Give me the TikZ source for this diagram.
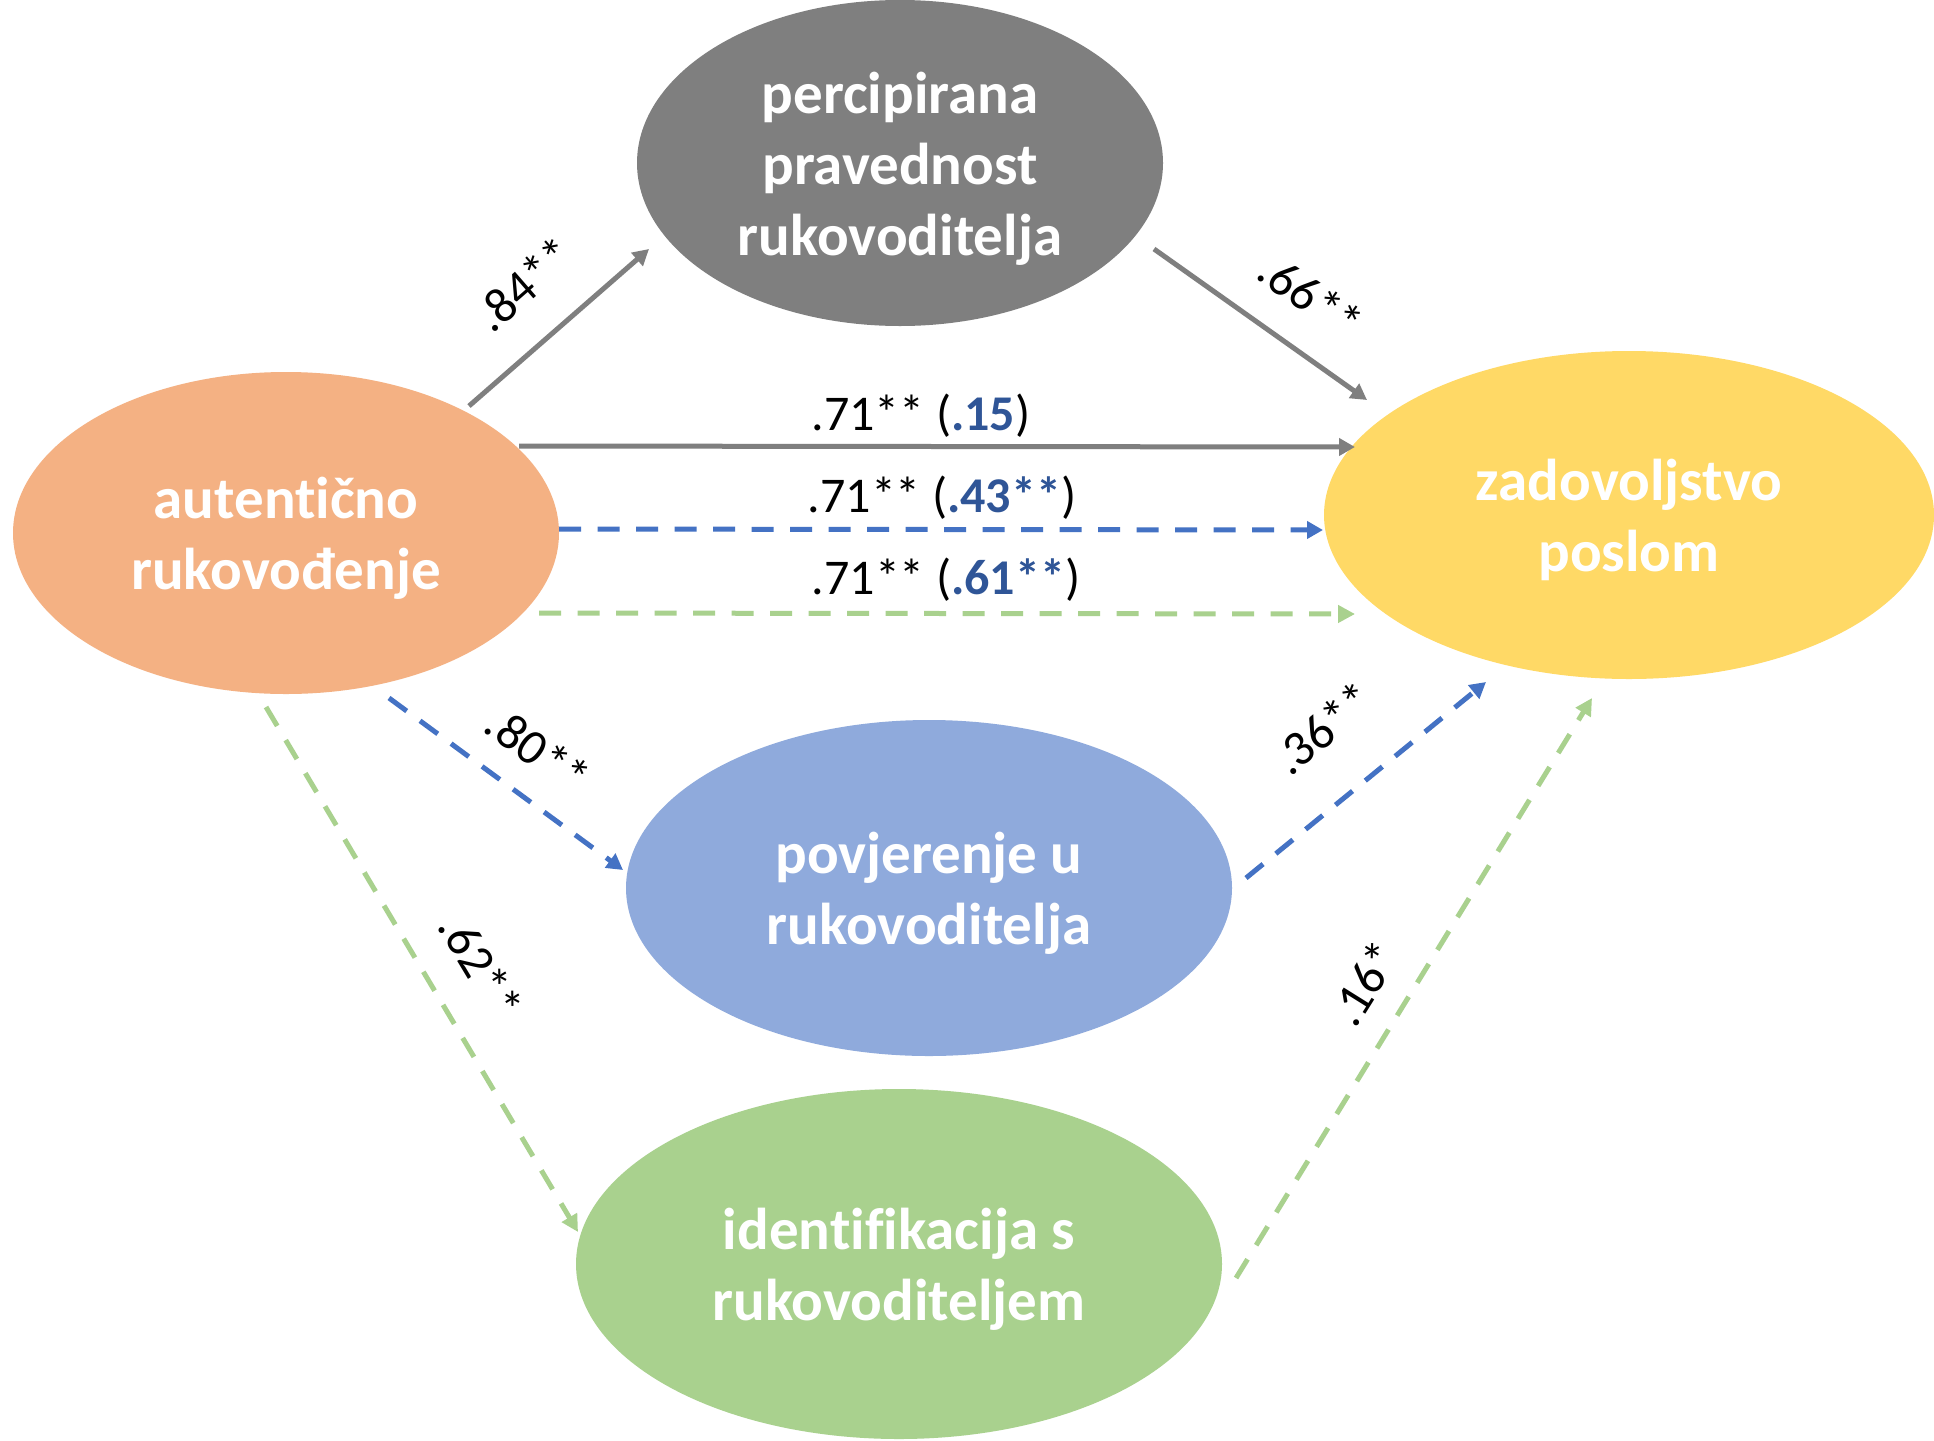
\documentclass[tikz,border=0pt]{standalone}
\usepackage{fontspec}
\setmainfont{Carlito}[Ligatures={NoCommon}]
\usetikzlibrary{arrows.meta,calc,shapes.geometric}
\definecolor{cgrey}{HTML}{7F7F7F}
\definecolor{corange}{HTML}{F4B183}
\definecolor{cyellow}{HTML}{FFD966}
\definecolor{cblue}{HTML}{8FAADC}
\definecolor{cgreen}{HTML}{A9D18E}
\definecolor{lblue}{HTML}{4472C4}
\definecolor{tblue}{HTML}{2F5597}
\newcommand\elltext[1]{\raisebox{-7pt}[\height][\depth]{\begin{tabular}{@{}c@{}}#1\end{tabular}}}
\begin{document}
\begin{tikzpicture}[x=1pt,y=-1pt,
  ell/.style={ellipse,inner sep=0pt,text=white,font=\bfseries\fontsize{59}{71}\selectfont},
  lab/.style={font=\fontsize{50}{58}\selectfont,text=black,inner sep=0pt},
  garrow/.style={draw=cgrey,line width=5pt,-{Triangle[length=16pt,width=17pt]}},
  barrow/.style={draw=lblue,line width=5pt,dash pattern=on 22pt off 16.5pt,-{Triangle[length=16pt,width=17pt]}},
  narrow/.style={draw=cgreen,line width=5pt,dash pattern=on 22pt off 16.5pt,-{Triangle[length=17pt,width=17pt]}}]
\useasboundingbox (0,0) rectangle (1934,1440);
\fill[white] (0,0) rectangle (1934,1440);
\node[ell,fill=cgrey,minimum width=526pt,minimum height=326pt] (gr) at (900,163) {\elltext{percipirana\\pravednost\\rukovoditelja}};
\node[ell,fill=corange,minimum width=546pt,minimum height=322pt] (or) at (286,533) {\elltext{autentično\\rukovođenje}};
\node[ell,fill=cyellow,minimum width=610pt,minimum height=328pt] (ye) at (1629,515) {\elltext{zadovoljstvo\\poslom}};
\node[ell,fill=cblue,minimum width=606pt,minimum height=336pt] (bl) at (929,888) {\elltext{povjerenje u\\rukovoditelja}};
\node[ell,fill=cgreen,minimum width=646pt,minimum height=350pt] (gn) at (899,1264) {\elltext{identifikacija s\\rukovoditeljem}};

\draw[garrow] ($(or)+(183,-127)$) -- ($(gr)+(-251,86)$);
\draw[garrow] ($(gr)+(254,86)$) -- ($(ye)+(-262,-115)$);
\draw[garrow] ($(or)+(233,-87)$) -- ($(ye)+(-274,-68)$);
\draw[barrow] ($(or)+(273,-4)$) -- ($(ye)+(-306,15)$);
\draw[narrow] ($(or)+(253,80)$) -- ($(ye)+(-274,99)$);
\draw[barrow] ($(or)+(103,165)$) -- ($(bl)+(-306,-18)$);
\draw[barrow] ($(bl)+(317,-10)$) -- ($(ye)+(-143,167)$);
\draw[narrow] ($(or)+(-20,174)$) -- ($(gn)+(-321,-32)$);
\draw[narrow] ($(gn)+(337,14)$) -- ($(ye)+(-37,183)$);

\node[lab,rotate=41] (l1) at (524,284) {.84**};
\node[lab,rotate=-35] (l2) at (1311,296) {.66**};
\node[lab] (l3) at (921,416) {.71** (\textcolor{tblue}{\textbf{.15}})};
\node[lab] (l4) at (942,498) {.71** ({\bfseries\color{tblue}.43**})};
\node[lab] (l5) at (946,580) {.71** ({\bfseries\color{tblue}.61**})};
\node[lab,rotate=-36] (l6) at (538,750) {.80**};
\node[lab,rotate=39] (l7) at (1323,728) {.36**};
\node[lab,rotate=-59] (l8) at (481,966) {.62**};
\node[lab,rotate=58] (l9) at (1364,983) {.16*};
\end{tikzpicture}
\end{document}
